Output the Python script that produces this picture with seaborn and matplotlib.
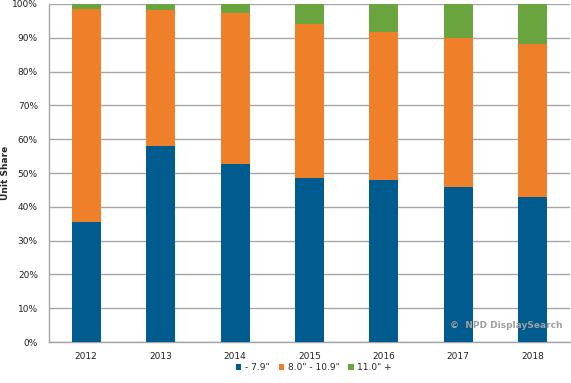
import matplotlib
matplotlib.use("Agg")
import matplotlib.pyplot as plt
import seaborn as sns
import pandas as pd
import numpy as np
from matplotlib.ticker import PercentFormatter, FixedLocator

years = ["2012", "2013", "2014", "2015", "2016", "2017", "2018"]
small = [35.6, 58.0, 52.7, 48.5, 48.0, 45.9, 42.8]      # - 7.9"
medium = [62.9, 40.2, 44.6, 45.6, 43.7, 44.1, 45.4]     # 8.0" - 10.9"
large = [1.5, 1.8, 2.7, 5.9, 8.3, 10.0, 11.8]           # 11.0" +
series_names = ['- 7.9"', '8.0" - 10.9"', '11.0" +']
colors = ["#005B8F", "#F07F29", "#6AA43E"]

sns.set_theme(style="white")
plt.rcParams["font.family"] = ["DejaVu Sans"]

df = pd.DataFrame({"year": years, "s": small, "m": medium, "l": large})
df["c1"] = df["s"]
df["c2"] = df["s"] + df["m"]
df["c3"] = df["s"] + df["m"] + df["l"]

fig = plt.figure(figsize=(5.71, 3.83), dpi=100)
ax = fig.add_axes([0.0858, 0.107, 0.9122, 0.8826])

for col, color, name in zip(["c3", "c2", "c1"], colors[::-1], series_names[::-1]):
    sns.barplot(data=df, x="year", y=col, color=color, width=0.39,
                saturation=1, ax=ax, label=name, zorder=3, linewidth=0)

ax.set_ylim(0, 100)
ax.set_xlim(-0.5, 6.5)
ax.yaxis.set_major_locator(FixedLocator(np.arange(0, 101, 10)))
ax.yaxis.set_major_formatter(PercentFormatter(decimals=0))
ax.grid(axis="y", color="#A6A6A6", linewidth=1, zorder=0)
ax.set_axisbelow(True)
for side in ["top", "right"]:
    ax.spines[side].set_visible(False)
for side in ["left", "bottom"]:
    ax.spines[side].set_color("#A6A6A6")
    ax.spines[side].set_linewidth(1)

ax.tick_params(axis="y", length=0, labelsize=6.5, pad=8, colors="#222222")
ax.tick_params(axis="x", which="major", length=0, labelsize=6.5, pad=7, colors="#222222")
ax.xaxis.set_minor_locator(FixedLocator(np.arange(-0.5, 7, 1)))
ax.tick_params(axis="x", which="minor", length=3, color="#A6A6A6", width=1, direction="in")

ax.set_xlabel("")
ax.set_ylabel("Unit Share", fontsize=6.5, fontweight="bold", labelpad=10)
ax.yaxis.set_label_coords(-0.075, 0.5)

ax.text(0.985, 0.05, "\u00a9  NPD DisplaySearch", transform=ax.transAxes,
        ha="right", va="center", fontsize=6.5, fontweight="bold", color="#A0A0A0", zorder=5)

handles, labels = ax.get_legend_handles_labels()
handles, labels = handles[::-1], labels[::-1]
leg = fig.legend(handles, labels, loc="center", bbox_to_anchor=(0.55, 0.04), ncol=3,
                 frameon=False, fontsize=6.5, handlelength=0.6, handleheight=0.6,
                 handletextpad=0.4, columnspacing=1.0)
if ax.get_legend() is not None:
    ax.get_legend().remove()

fig.savefig("out.png", dpi=100)
